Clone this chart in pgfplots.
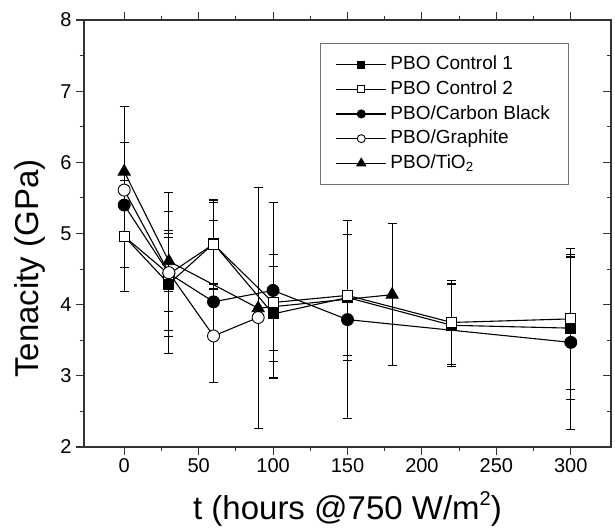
\documentclass[border=0pt]{standalone}
\usepackage{pgfplots}
\pgfplotsset{compat=1.18}
\usepackage{fontspec}
\setmainfont{Liberation Sans}
\begin{document}
\begin{tikzpicture}
\pgfplotsset{
  commonax/.style={
    scale only axis, width=527bp, height=427bp,
    xmin=-27, xmax=327, ymin=2, ymax=8,
    xtick={0,50,...,300}, ytick={2,3,...,8},
    minor x tick num=1, minor y tick num=1,
    major tick length=8bp, minor tick length=4bp,
    axis line style={black!80, line width=1.3bp},
    every tick/.style={black!80, line width=1.1bp},
    every minor tick/.style={black!80, line width=1.1bp},
  },
  ser/.style={black, line width=1.1bp,
    error bars/y dir=both, error bars/y explicit,
    error bars/error bar style={line width=1.1bp, black, solid},
    error bars/error mark options={rotate=90, black, mark size=4.5bp, line width=1.1bp, solid}},
}
\begin{axis}[commonax,
  tick align=outside, ytick pos=left,
  /pgf/number format/assume math mode=true,
  ticklabel style={font=\fontsize{20bp}{24bp}\selectfont},
  yticklabel style={xshift=-1bp},
  xlabel={t (hours @750 W/m\raisebox{0.42em}{\fontsize{20bp}{20bp}\selectfont 2})},
  ylabel={Tenacity (GPa)},
  label style={font=\fontsize{33bp}{38bp}\selectfont},
  xlabel style={at={(axis description cs:0.5,-0.145)}, anchor=center},
  ylabel style={at={(axis description cs:-0.1025,0.418)}, anchor=center, rotate=0},
  legend style={at={(axis description cs:0.448,0.946)}, anchor=north west,
    draw=black!55, line width=1.3bp,
    font=\fontsize{19bp}{22bp}\selectfont,
    inner xsep=15bp, inner ysep=8.5bp,
    nodes={inner sep=3.6bp, text height=14bp, text depth=3.5bp},
    row sep=0pt},
  legend cell align=left,
  legend image code/.code={\draw[#1, line width=1.1bp, mark repeat=2, mark phase=2] plot coordinates {(0bp,0bp) (25bp,0bp) (50bp,0bp)};},
]
% legend entries
\addlegendimage{black, mark=square*, mark size=3.5bp, mark options={solid, fill=black}}
\addlegendentry{PBO Control 1}
\addlegendimage{black, mark=square*, mark size=3.5bp, mark options={solid, fill=white, line width=0.9bp}}
\addlegendentry{PBO Control 2}
\addlegendimage{black, mark=*, mark size=4bp, mark options={solid, fill=black}}
\addlegendentry{PBO/Carbon Black}
\addlegendimage{black, mark=*, mark size=4bp, mark options={solid, fill=white, line width=0.9bp}}
\addlegendentry{PBO/Graphite}
\addlegendimage{black, mark=triangle*, mark size=5bp, mark options={solid, fill=black}}
\addlegendentry{PBO/TiO\textsubscript{2}}

% PBO Control 1
\addplot[ser, forget plot, mark=square*, mark size=5bp, mark options={fill=black, line width=0.9bp}]
coordinates {
(0,4.96) +- (0,0.06)
(30,4.29) +- (0,0.65)
(60,4.86) +- (0,0.57)
(100,3.87) +- (0,0.67)
(150,4.10) +- (0,0.88)
(220,3.71) +- (0,0.58)
(300,3.67) +- (0,1.00)
};
% PBO/Carbon Black
\addplot[ser, forget plot, mark=*, mark size=6bp, mark options={fill=black, line width=0.9bp}]
coordinates {
(0,5.40) +- (0,0.88)
(30,4.44) +- (0,1.13)
(60,4.04) +- (0,1.14)
(100,4.20) +- (0,1.23)
(150,3.79) +- (0,1.39)
(300,3.47) +- (0,1.23)
};
% PBO Control 2
\addplot[ser, forget plot, mark=square*, mark size=5bp, mark options={fill=white, line width=0.9bp}]
coordinates {
(0,4.96) +- (0,0.78)
(30,4.43) +- (0,0.88)
(60,4.85) +- (0,0.62)
(100,4.03) +- (0,0.68)
(150,4.13) +- (0,0.85)
(220,3.75) +- (0,0.59)
(300,3.80) +- (0,0.99)
};
% PBO/Graphite
\addplot[ser, forget plot, mark=*, mark size=6bp, mark options={fill=white, line width=0.9bp}]
coordinates {
(0,5.61) +- (0,0.06)
(30,4.45) +- (0,0.55)
(60,3.56) +- (0,0.65)
(90,3.82) +- (0,0.06)
};
% PBO/TiO2
\addplot[ser, forget plot, mark=triangle*, mark size=7bp, mark options={fill=black, line width=0.9bp}]
coordinates {
(0,5.87) +- (0,0.92)
(30,4.61) +- (0,0.43)
(90,3.95) +- (0,1.69)
(180,4.14) +- (0,1.00)
};
\end{axis}
\begin{axis}[commonax, axis x line=none, axis y line*=right, tick align=inside, yticklabels={}]
\end{axis}
\pgfresetboundingbox
\path[use as bounding box] ([shift={(-84bp,-81bp)}]current axis.south west) rectangle ([shift={(4bp,20bp)}]current axis.north east);
\end{tikzpicture}
\end{document}
